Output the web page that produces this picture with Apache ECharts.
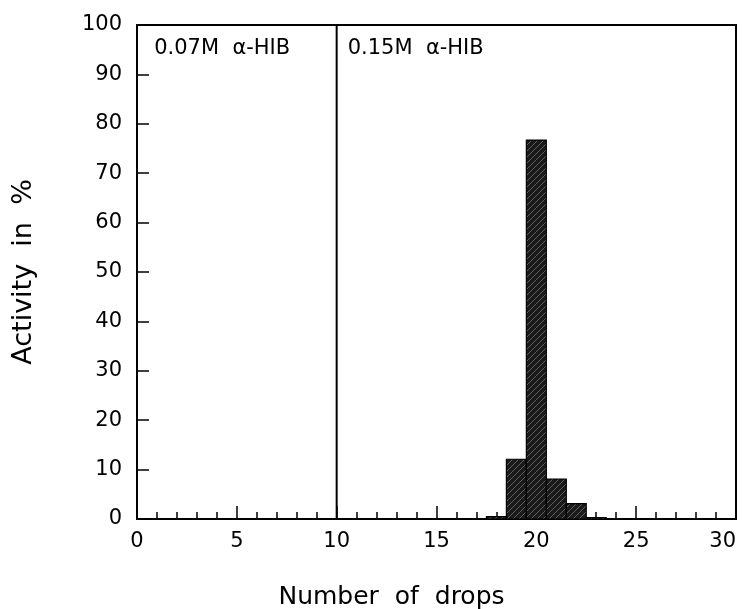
<!DOCTYPE html>
<html>
<head>
<meta charset="utf-8">
<script src="https://cdn.jsdelivr.net/npm/echarts@6/dist/echarts.min.js"></script>
<style>html,body{margin:0;padding:0;background:#fff;}#c{width:742px;height:609px;}</style>
</head>
<body>
<div id="c"></div>
<script>
// Data
var dropNumbers = [18, 19, 20, 21, 22, 23];
var activity = [0.5, 12.1, 76.7, 8.1, 3.1, 0.3];
var xTicks = [0, 5, 10, 15, 20, 25, 30];
var yTicks = [0, 10, 20, 30, 40, 50, 60, 70, 80, 90, 100];
var dividerX = 10;
var panelLabels = ['0.07M  \u03b1-HIB', '0.15M  \u03b1-HIB'];
var panelLabelX = [0.86, 10.55];
var panelLabelY = [95.3, 95.3];

// hatched pattern
var pc = document.createElement('canvas');
pc.width = 6; pc.height = 6;
var pctx = pc.getContext('2d');
pctx.fillStyle = '#1a1a1a';
pctx.fillRect(0, 0, 6, 6);
pctx.strokeStyle = 'rgba(255,255,255,0.3)';
pctx.lineWidth = 1;
pctx.beginPath();
pctx.moveTo(0, 6); pctx.lineTo(6, 0);
pctx.stroke();

var font = 'DejaVu Sans';
var chart = echarts.init(document.getElementById('c'));
chart.setOption({
  backgroundColor: '#fff',
  animation: false,
  grid: {left: 137, right: 6, top: 25, bottom: 90, outerBoundsMode: 'none', containLabel: false,
    show: true, borderColor: '#000', borderWidth: 2, backgroundColor: 'transparent'},
  xAxis: {
    type: 'value', min: xTicks[0], max: xTicks[xTicks.length - 1], interval: 5,
    name: 'Number  of  drops', nameLocation: 'middle', nameGap: 66,
    nameTextStyle: {fontFamily: font, fontSize: 25, color: '#000', padding: [0, 90, 0, 0]},
    axisLine: {lineStyle: {color: '#000', width: 2}},
    axisTick: {inside: true, length: 13, lineStyle: {color: '#000', width: 1.5}},
    minorTick: {show: true, splitNumber: 5, length: 7, lineStyle: {color: '#000', width: 1.5}},
    splitLine: {show: false},
    axisLabel: {fontFamily: font, fontSize: 21, color: '#000', margin: 12, alignMaxLabel: 'right'}
  },
  yAxis: {
    type: 'value', min: yTicks[0], max: yTicks[yTicks.length - 1], interval: 10,
    name: 'Activity  in  %', nameLocation: 'middle', nameGap: 100,
    nameTextStyle: {fontFamily: font, fontSize: 27, color: '#000'},
    axisLine: {show: true, lineStyle: {color: '#000', width: 2}},
    axisTick: {inside: true, length: 12, lineStyle: {color: '#000', width: 1.5}},
    splitLine: {show: false},
    axisLabel: {fontFamily: font, fontSize: 21, color: '#000', margin: 15}
  },
  series: [
    {
      type: 'custom',
      data: dropNumbers.map(function (d, i) { return [d, activity[i]]; }),
      renderItem: function (params, api) {
        var x = api.value(0), y = api.value(1);
        var p1 = api.coord([x - 0.5, y]);
        var p2 = api.coord([x + 0.5, 0]);
        return {
          type: 'rect',
          shape: {x: p1[0], y: p1[1], width: p2[0] - p1[0], height: p2[1] - p1[1]},
          style: {fill: {image: pc, repeat: 'repeat'}, stroke: '#000', lineWidth: 1.2}
        };
      },
      z: 3
    },
    {
      type: 'line',
      data: [[dividerX, yTicks[0]], [dividerX, yTicks[yTicks.length - 1]]],
      symbol: 'none',
      lineStyle: {color: '#000', width: 2},
      z: 4
    },
    {
      type: 'scatter',
      symbolSize: 0,
      itemStyle: {opacity: 1},
      data: panelLabels.map(function (t, i) { return {value: [panelLabelX[i], panelLabelY[i]], name: t}; }),
      label: {show: true, position: 'right', distance: 0, formatter: function (p) { return p.name; },
        fontFamily: font, fontSize: 21, color: '#000', opacity: 1},
      z: 5
    }
  ]
});
</script>
</body>
</html>
